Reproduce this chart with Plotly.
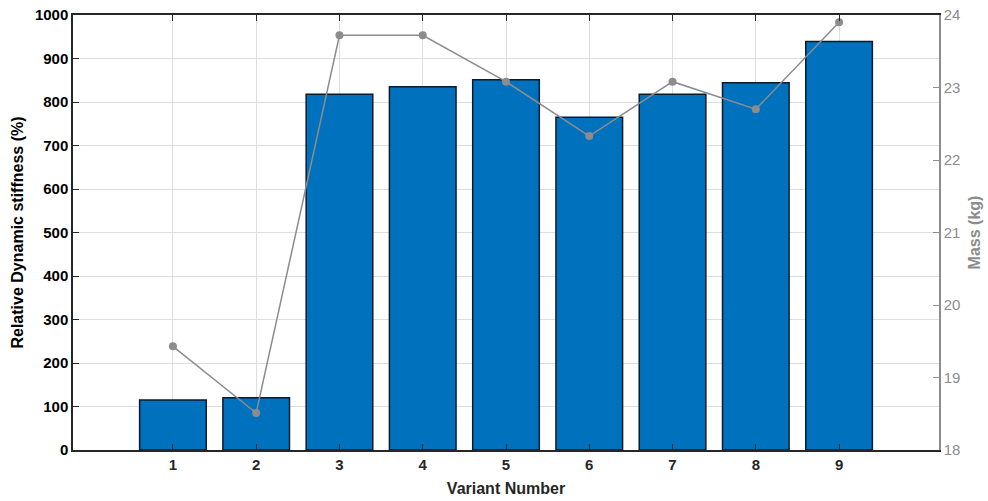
import plotly.graph_objects as go

variants = [1, 2, 3, 4, 5, 6, 7, 8, 9]
stiffness = [115, 120, 818, 835, 851, 765, 818, 844, 939]
mass = [19.43, 18.51, 23.72, 23.72, 23.08, 22.33, 23.08, 22.70, 23.90]
left_ticks = [0, 100, 200, 300, 400, 500, 600, 700, 800, 900, 1000]
right_ticks = [18, 19, 20, 21, 22, 23, 24]

FONT = "Liberation Sans, Arial, sans-serif"

fig = go.Figure()
fig.add_trace(go.Bar(
    x=variants, y=stiffness, width=0.8,
    marker=dict(color="#0072BD", line=dict(color="#0d1a2b", width=1.5)),
    yaxis="y", showlegend=False,
))
fig.add_trace(go.Scatter(
    x=variants, y=mass, mode="lines+markers",
    line=dict(color="#8c8c8c", width=1.5),
    marker=dict(color="#8c8c8c", size=8),
    yaxis="y2", showlegend=False,
))

fig.update_layout(
    width=988, height=501,
    margin=dict(l=73, r=49, t=15, b=51, autoexpand=False),
    paper_bgcolor="white", plot_bgcolor="white",
    font=dict(family=FONT, color="#262626"),
    xaxis=dict(
        range=[-0.2, 10.2], tickvals=variants, ticktext=[str(v) for v in variants],
        showgrid=True, gridcolor="#dedede", gridwidth=1,
        showline=True, linecolor="#262626", linewidth=1.5, mirror="ticks",
        ticks="inside", ticklen=6, tickcolor="#262626",
        tickfont=dict(size=15, family=FONT, color="#262626", weight="bold"),
        title=dict(text="<b>Variant Number</b>", font=dict(size=16, color="#262626"), standoff=11),
        zeroline=False, automargin=False, ticklabeloverflow="allow",
    ),
    yaxis=dict(
        range=[0, 1000], tickvals=left_ticks,
        showgrid=True, gridcolor="#dedede", gridwidth=1,
        showline=True, linecolor="#262626", linewidth=1.5,
        ticks="inside", ticklen=6, tickcolor="#262626",
        tickfont=dict(size=15, family=FONT, color="#000000", weight="bold"),
        title=dict(text="<b>Relative Dynamic stiffness (%)</b>", font=dict(size=16, color="#000000"), standoff=7),
        zeroline=False, automargin=False, ticklabeloverflow="allow",
    ),
    yaxis2=dict(
        range=[18, 24], tickvals=right_ticks, overlaying="y", side="right",
        showgrid=False,
        showline=True, linecolor="#8c8c8c", linewidth=1.5,
        ticks="inside", ticklen=6, tickcolor="#8c8c8c",
        tickfont=dict(size=15, family=FONT, color="#8c8c8c"),
        title=dict(text="<b>Mass (kg)</b>", font=dict(size=16, color="#8c8c8c"), standoff=9),
        zeroline=False, automargin=False, ticklabeloverflow="allow",
    ),
    bargap=0.2,
)

fig.write_html(
    "out.html",
    config={"displayModeBar": False},
    post_script="document.body.style.margin='0';document.body.style.overflow='hidden';",
)
